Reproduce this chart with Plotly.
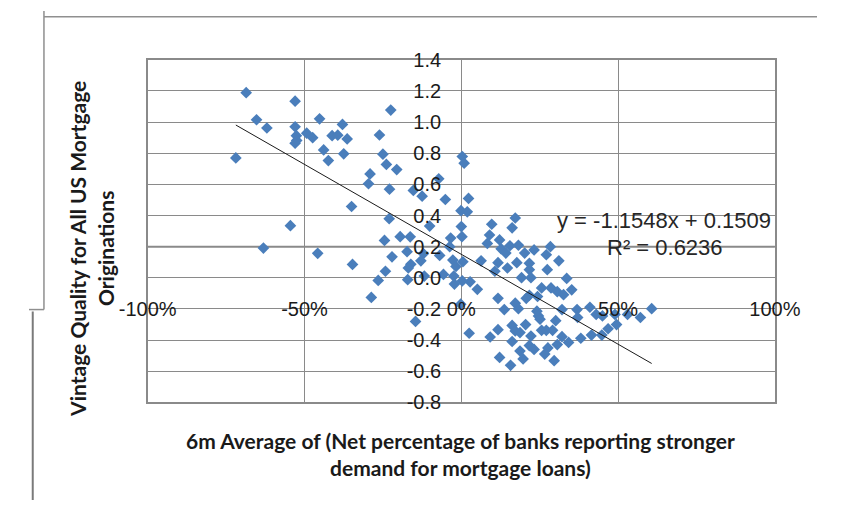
import plotly.graph_objects as go

# ---- data ----
demand = [
    -0.686, -0.530, -0.653, -0.620, -0.530, -0.526, -0.525, -0.530, -0.493, -0.474,
    -0.452, -0.379, -0.412, -0.394, -0.364, -0.439, -0.375, -0.424, -0.719, -0.350,
    -0.545, -0.631, -0.458, -0.347, -0.225, -0.261, -0.250, -0.239, -0.206, -0.291,
    -0.296, -0.229, -0.153, -0.125, -0.072, -0.051, 0.003, 0.009, 0.023, -0.001,
    0.019, -0.230, -0.101, 0.000, -0.245, -0.195, -0.163, -0.034, 0.002, -0.037,
    -0.173, -0.121, -0.069, -0.221, -0.129, -0.161, -0.027, 0.005, -0.169, -0.242,
    -0.017, -0.057, -0.024, -0.118, -0.171, -0.265, 0.003, 0.028, -0.022, -0.287,
    -0.002, -0.146, 0.025,
    0.172, 0.097, 0.162, 0.090, 0.083, 0.122, 0.127, 0.155, 0.182, 0.142,
    0.202, 0.232, 0.284, 0.271, 0.311, 0.063, 0.117, 0.147, 0.177, 0.217,
    0.217, 0.274, 0.107, 0.192, 0.222, 0.336, 0.051, 0.117, 0.256, 0.286,
    0.306, 0.326, 0.352, 0.217, 0.243, 0.172, 0.182, 0.137, 0.207, 0.241,
    0.246, 0.251, 0.301, 0.321, 0.369, 0.410, 0.371, 0.430, 0.450, 0.490,
    0.530, 0.571, 0.607, 0.495, 0.468, 0.448, 0.415, 0.381, 0.342, 0.321,
    0.306, 0.296, 0.092, 0.117, 0.162, 0.172, 0.187, 0.205, 0.222, 0.162,
    0.256, 0.271, 0.291, 0.217, 0.232, 0.276, 0.266, 0.187, 0.197, 0.122,
    0.157,
]
quality = [
    1.189, 1.134, 1.015, 0.962, 0.970, 0.913, 0.882, 0.864, 0.929, 0.900,
    1.021, 0.985, 0.913, 0.916, 0.892, 0.821, 0.796, 0.753, 0.770, 0.458,
    0.335, 0.191, 0.157, 0.086, 1.077, 0.917, 0.794, 0.728, 0.695, 0.667,
    0.604, 0.569, 0.561, 0.524, 0.636, 0.503, 0.779, 0.736, 0.510, 0.431,
    0.424, 0.380, 0.332, 0.329, 0.240, 0.264, 0.263, 0.255, 0.264, 0.200,
    0.168, 0.155, 0.144, 0.135, 0.109, 0.087, 0.114, 0.103, 0.063, 0.042,
    0.073, 0.022, 0.011, 0.011, -0.012, -0.017, -0.020, -0.026, -0.040, -0.126,
    -0.169, -0.280, -0.356,
    0.384, 0.344, 0.321, 0.275, 0.221, 0.243, 0.186, 0.206, 0.209, 0.159,
    0.159, 0.179, 0.200, 0.148, 0.109, 0.109, 0.097, 0.063, 0.097, 0.093,
    0.052, 0.052, 0.042, 0.001, 0.001, -0.004, -0.074, -0.132, -0.065, -0.065,
    -0.089, -0.108, -0.077, -0.112, -0.120, -0.163, -0.198, -0.204, -0.132, -0.214,
    -0.245, -0.266, -0.275, -0.204, -0.204, -0.189, -0.255, -0.235, -0.245, -0.235,
    -0.235, -0.255, -0.198, -0.300, -0.327, -0.368, -0.368, -0.388, -0.415, -0.378,
    -0.429, -0.532, -0.380, -0.333, -0.306, -0.341, -0.352, -0.300, -0.374, -0.409,
    -0.337, -0.337, -0.337, -0.435, -0.460, -0.450, -0.490, -0.470, -0.521, -0.511,
    -0.562,
]

trend_slope = -1.1548
trend_intercept = 0.1509
trend_x = [-0.719, 0.607]
trend_label = "y = -1.1548x + 0.1509"
r2_label = "R² = 0.6236"

x_tick_vals = [-1.0, -0.5, 0.0, 0.5, 1.0]
x_tick_text = ["-100%", "-50%", "0%", "50%", "100%"]
y_tick_vals = [1.4, 1.2, 1.0, 0.8, 0.6, 0.4, 0.2, 0.0, -0.2, -0.4, -0.6, -0.8]
y_tick_text = ["1.4", "1.2", "1.0", "0.8", "0.6", "0.4", "0.2", "0.0", "-0.2", "-0.4", "-0.6", "-0.8"]

x_title = "6m Average of (Net percentage of banks reporting stronger<br>demand for mortgage loans)"
y_title = "Vintage Quality for All US Mortgage<br>Originations"

# ---- figure geometry (pixels) ----
W, H = 843, 511
PL, PR, PT, PB = 127, 798, 51, 409


def px(x):
    return x / W


def py(y):
    return 1 - y / H


GRID = "#8a8a8a"
TICKFONT = dict(family="Liberation Sans, Arial, sans-serif", size=20, color="#1a1a1a")

trend_y = [trend_slope * v + trend_intercept for v in trend_x]

fig = go.Figure()
fig.add_trace(go.Scatter(
    x=demand, y=quality, mode="markers",
    marker=dict(symbol="diamond", size=9, color="#4A7EBB", line=dict(width=0)),
    showlegend=False, hoverinfo="skip",
))
fig.add_trace(go.Scatter(
    x=trend_x, y=trend_y, mode="lines",
    line=dict(color="#1a1a1a", width=1),
    showlegend=False, hoverinfo="skip",
))
# dummy trace for the label axes
fig.add_trace(go.Scatter(x=[None], y=[None], xaxis="x2", yaxis="y2",
                         showlegend=False, hoverinfo="skip"))

fig.update_layout(
    width=W, height=H, autosize=False,
    margin=dict(l=0, r=0, t=0, b=0, pad=0),
    paper_bgcolor="white", plot_bgcolor="white",
    xaxis=dict(
        domain=[px(PL), px(PR)], range=[-1, 1],
        tickvals=x_tick_vals, showticklabels=False,
        showgrid=True, gridcolor=GRID, gridwidth=1,
        zeroline=False, showline=True, mirror=True,
        linecolor=GRID, linewidth=2, ticks="",
    ),
    yaxis=dict(
        domain=[py(PB), py(PT)], range=[-0.8, 1.4],
        tickvals=y_tick_vals, showticklabels=False,
        showgrid=True, gridcolor=GRID, gridwidth=1,
        zeroline=False, showline=True, mirror=True,
        linecolor=GRID, linewidth=2, ticks="",
    ),
    xaxis2=dict(
        overlaying="x", anchor="free", position=py(297),
        range=[-1, 1], tickvals=x_tick_vals, ticktext=x_tick_text,
        tickfont=TICKFONT, showgrid=False, zeroline=False,
        showline=False, ticks="",
    ),
    yaxis2=dict(
        overlaying="y", anchor="free", position=px(462.3), side="left",
        range=[-0.8, 1.4], tickvals=y_tick_vals, ticktext=y_tick_text,
        tickfont=TICKFONT, showgrid=False, zeroline=False,
        showline=False, ticks="", ticklabelstandoff=20,
    ),
)

# thicker horizontal line at 0.2
fig.add_shape(type="line", xref="x", yref="y", x0=-1, x1=1, y0=0.2, y1=0.2,
              line=dict(color=GRID, width=2), layer="below")

# outer screenshot frame lines
FRAME = "#8f8f8f"
fig.add_shape(type="line", xref="paper", yref="paper", x0=px(16), x1=px(W), y0=py(6), y1=py(6),
              line=dict(color=FRAME, width=1.5))
fig.add_shape(type="line", xref="paper", yref="paper", x0=px(16), x1=px(16), y0=py(0), y1=py(312),
              line=dict(color=FRAME, width=1.5))
fig.add_shape(type="line", xref="paper", yref="paper", x0=px(0), x1=px(16), y0=py(312), y1=py(312),
              line=dict(color=FRAME, width=1.5))
fig.add_shape(type="line", xref="paper", yref="paper", x0=px(4), x1=px(4), y0=py(314), y1=py(H),
              line=dict(color="#7a7a7a", width=2))

# trendline equation labels
EQFONT = dict(family="Liberation Sans, Arial, sans-serif", size=22, color="#262626")
fig.add_annotation(text=trend_label, xref="paper", yref="paper", x=px(679), y=py(219),
                   xanchor="center", yanchor="middle", showarrow=False, font=EQFONT)
fig.add_annotation(text=r2_label, xref="paper", yref="paper", x=px(680), y=py(247),
                   xanchor="center", yanchor="middle", showarrow=False, font=EQFONT)

# axis titles
TFONT = dict(family="Lato, sans-serif", size=21, color="#1a1a1a", weight="bold")
fig.add_annotation(text=x_title, xref="paper", yref="paper", x=px(462), y=py(463),
                   xanchor="center", yanchor="middle", showarrow=False, font=TFONT)
fig.add_annotation(text=y_title, xref="paper", yref="paper", x=px(67), y=py(249),
                   xanchor="center", yanchor="middle", showarrow=False, font=TFONT,
                   textangle=-90)

fig.write_html(
    "out.html",
    config={"responsive": False, "displayModeBar": False},
    post_script="document.body.style.margin='0px';document.body.style.overflow='hidden';",
)
